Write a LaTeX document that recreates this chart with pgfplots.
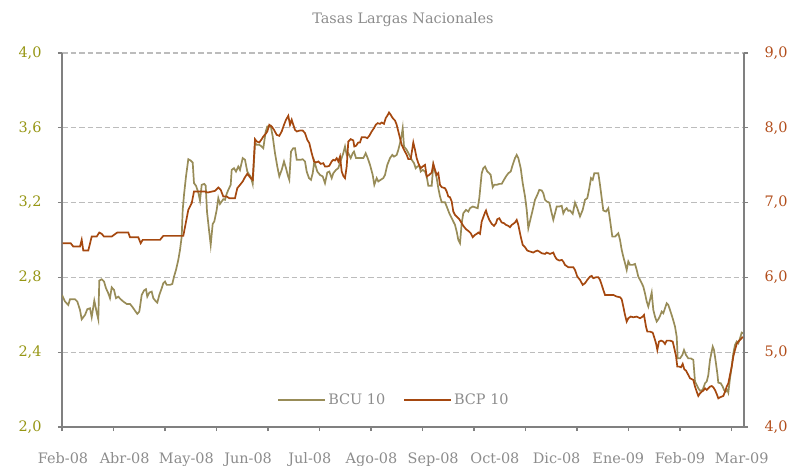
\documentclass[border=0pt]{standalone}
\usepackage{pgfplots}
\pgfplotsset{compat=1.18}
\usepackage{pgfplotstable}
\usepackage{fontspec}
\setmainfont{DejaVu Serif}
\definecolor{olivetxt}{RGB}{150,150,20}
\definecolor{browntxt}{RGB}{178,78,28}
\definecolor{bcu}{RGB}{152,140,88}
\definecolor{bcp}{RGB}{165,72,15}
\definecolor{graytxt}{RGB}{140,140,140}
\definecolor{axisgray}{RGB}{128,128,128}
\definecolor{gridgray}{RGB}{188,188,188}

\pgfplotstableread{
x v
0 2.706
3 2.671
6.3 2.653
8 2.683
13 2.683
15.3 2.671
18 2.626
19.7 2.576
23 2.599
25.3 2.630
28 2.635
29.7 2.587
32.3 2.676
34.7 2.612
36.3 2.576
37.3 2.783
39.7 2.790
42 2.778
44 2.742
46.3 2.715
48 2.689
49.7 2.747
52 2.733
54 2.689
56.3 2.697
58.7 2.683
61.3 2.671
64.7 2.658
68 2.658
70.7 2.640
73 2.622
75.3 2.605
77.3 2.617
79.7 2.706
82 2.730
84 2.737
85.3 2.697
87.3 2.719
89.7 2.724
91.3 2.689
94 2.671
95.3 2.665
97.3 2.706
99.7 2.742
101.3 2.769
103 2.778
104.7 2.760
108 2.760
110.3 2.765
112 2.804
114 2.840
116.3 2.894
118 2.947
119.7 3.018
120.7 3.161
122 3.241
124 3.340
126.3 3.432
128.7 3.425
130.7 3.414
132 3.304
134 3.290
136.3 3.254
138 3.211
139.7 3.295
142.3 3.300
143.7 3.290
145 3.152
147 3.054
148.7 2.974
150.7 3.086
152.3 3.099
154.7 3.161
156.3 3.224
158 3.193
159.7 3.206
161.3 3.218
163 3.215
164.7 3.247
166.3 3.268
168.7 3.295
169.7 3.375
172 3.384
174 3.366
176.3 3.393
178 3.375
180.7 3.438
183 3.429
185.3 3.366
187.3 3.348
188.7 3.340
190.7 3.300
193 3.518
194.7 3.509
197.3 3.509
199.7 3.500
201.3 3.491
203.7 3.580
205.3 3.607
208.7 3.611
210.7 3.554
213 3.464
215.3 3.393
217.3 3.340
219.7 3.375
222 3.420
224 3.384
225.7 3.348
227.3 3.322
229 3.473
231.3 3.491
233 3.491
234.7 3.429
238.7 3.429
240.7 3.432
243 3.420
244.7 3.366
247 3.331
249 3.322
250.7 3.357
252.3 3.420
255.3 3.366
258 3.348
260.7 3.340
263 3.304
265.3 3.361
267.3 3.366
269.7 3.331
271.3 3.357
274 3.375
276.3 3.384
279 3.429
281.3 3.464
283 3.500
284.7 3.455
286.3 3.464
288.7 3.438
290.7 3.464
292 3.473
294 3.438
298.7 3.438
301.3 3.438
303.7 3.464
305.7 3.438
308 3.402
310.7 3.348
312.3 3.295
314.7 3.331
316.3 3.313
318.7 3.322
321.3 3.331
323 3.348
325.3 3.402
328 3.438
330.3 3.455
332 3.446
334.7 3.455
336.3 3.482
338 3.518
339.7 3.562
340.7 3.598
342 3.500
344.7 3.482
347.3 3.455
349.7 3.429
352 3.411
353.7 3.384
355.3 3.393
357.3 3.397
358.7 3.366
360.7 3.375
363 3.366
364.7 3.340
366.3 3.290
369.7 3.290
371.3 3.402
373 3.366
374.7 3.331
376.3 3.277
378 3.233
379.7 3.202
383 3.202
384.7 3.179
387.3 3.143
389.7 3.117
391.3 3.099
393 3.081
394.7 3.045
396.3 3.001
398 2.983
399.7 3.090
401.3 3.143
404 3.161
406.3 3.152
408 3.170
410.7 3.179
413 3.175
415.7 3.170
417.3 3.224
419.7 3.357
421.3 3.384
423 3.393
425.3 3.366
427.3 3.357
428.7 3.348
430.7 3.282
432.3 3.295
434.7 3.295
437.3 3.300
439.7 3.300
442 3.322
444 3.340
446.3 3.357
448.7 3.366
450.7 3.402
453 3.438
454.7 3.455
456.3 3.438
458.7 3.384
460.7 3.304
463 3.233
464.7 3.161
466.3 3.063
468.7 3.117
470.7 3.161
473 3.215
475.3 3.241
477.3 3.268
479.7 3.265
481.3 3.250
483 3.215
484.7 3.206
487.3 3.200
489.7 3.143
491.3 3.108
493 3.143
494.7 3.179
497.3 3.179
499.7 3.183
501.3 3.143
503 3.161
504.7 3.170
506.3 3.156
508 3.158
510.7 3.140
513 3.200
515.3 3.170
518 3.126
520.7 3.161
523 3.215
525.3 3.224
527.3 3.277
529 3.331
530.7 3.322
532.3 3.357
536.3 3.357
538 3.295
539.7 3.224
541.3 3.158
544 3.152
546.3 3.170
548 3.108
550.3 3.018
553 3.018
554.7 3.027
556.3 3.036
558 3.001
559.7 2.947
561.3 2.911
563 2.876
564.7 2.840
566.3 2.885
568 2.867
570.7 2.867
573 2.872
574.7 2.840
576.3 2.804
578 2.787
579.7 2.769
581.3 2.751
583 2.715
584.7 2.671
586.3 2.644
588 2.680
589.7 2.719
591.3 2.626
593 2.590
594.7 2.564
596.3 2.576
598 2.594
599.7 2.617
601.3 2.608
603 2.635
604.7 2.662
606.3 2.653
608 2.626
610.7 2.581
613 2.537
614.7 2.483
615.7 2.367
618 2.367
620.3 2.385
622 2.412
624 2.385
626.3 2.367
628.7 2.367
631.3 2.359
633 2.243
634.7 2.225
636.3 2.207
638 2.194
640.7 2.198
643 2.234
644.7 2.243
646.3 2.278
648 2.359
650.7 2.430
652 2.412
653.7 2.350
655.3 2.287
656.3 2.237
658.7 2.234
660.7 2.216
662 2.198
663.7 2.189
665.3 2.198
666.3 2.184
668 2.260
669.7 2.323
671.3 2.394
673 2.439
674.7 2.457
676.3 2.448
678 2.474
679.7 2.505
681.3 2.501
}\bcudata

\pgfplotstableread{
x v
0.7 6.457
8.7 6.457
11.3 6.412
18 6.412
19.7 6.502
21.3 6.359
26.3 6.359
29.7 6.546
34.7 6.546
37.3 6.600
39.7 6.582
42 6.546
49.7 6.546
52 6.569
55.3 6.600
66.3 6.600
68 6.537
76.3 6.537
78.7 6.457
80.7 6.502
98 6.502
101.3 6.555
121.3 6.555
124.7 6.792
126.3 6.903
129.7 6.992
132 7.148
143 7.148
145.7 7.135
153 7.157
156.3 7.202
158.7 7.171
161.3 7.081
164.7 7.081
167.3 7.059
173 7.059
175.3 7.193
178 7.237
180.7 7.282
183 7.340
185.3 7.385
188.7 7.327
190.7 7.304
193 7.848
194.7 7.817
197.3 7.804
199.7 7.848
201.3 7.884
203.7 7.920
205.3 7.951
207.3 8.040
209.7 8.018
212 7.973
214.7 7.906
217.3 7.893
219.7 7.951
222 8.040
224 8.107
226.3 8.161
228 8.040
229.7 8.107
231.3 8.040
233 7.973
234.7 7.951
238 7.964
240.7 7.964
243 7.929
245.3 7.839
247.3 7.795
249.7 7.661
252 7.550
254 7.536
256.3 7.550
258.7 7.518
261.3 7.527
263 7.483
265.3 7.483
267.3 7.492
269.7 7.550
271.3 7.572
273 7.563
274.7 7.594
276.3 7.550
278 7.617
279.7 7.416
281.3 7.358
283 7.327
284.7 7.483
286.3 7.817
288.7 7.848
291.3 7.831
292.3 7.750
294 7.759
296.3 7.804
298 7.804
299.7 7.875
303 7.875
305.3 7.862
307.3 7.893
309.7 7.951
312 7.996
313.7 8.040
315.7 8.062
318 8.053
319.7 8.071
322 8.053
323.7 8.129
325.3 8.161
327 8.205
328.7 8.174
330.7 8.129
333 8.098
334.7 8.040
336.3 7.951
338 7.862
339.7 7.773
342 7.706
344.7 7.639
346.3 7.581
348.7 7.581
351.3 7.804
353 7.706
354.7 7.594
356.3 7.527
358.7 7.460
360.7 7.483
363 7.505
364.7 7.349
367.3 7.371
369.7 7.402
371.3 7.518
373 7.438
374.7 7.371
376.3 7.394
378 7.237
379.7 7.206
383 7.193
384.7 7.148
386.3 7.081
388 7.072
389.7 7.014
391.3 6.881
393 6.836
395.3 6.805
397.3 6.778
399.7 6.725
401.3 6.689
404 6.644
406.3 6.622
408.7 6.591
410.7 6.537
413 6.569
414.7 6.582
416.3 6.600
418 6.582
419.7 6.747
421.3 6.805
423 6.867
424 6.894
425.3 6.836
427.3 6.769
429.7 6.716
432 6.689
434 6.725
435.3 6.778
437.3 6.791
439.7 6.734
442 6.725
444 6.702
446.3 6.689
448 6.671
449.7 6.702
451.3 6.716
453 6.734
454.7 6.769
456.3 6.702
458.7 6.546
460.7 6.435
463 6.404
465.3 6.359
468 6.346
471.3 6.332
473 6.346
475.3 6.359
477.3 6.346
479.7 6.323
483 6.314
484.7 6.332
488 6.314
491.3 6.332
493 6.279
494.7 6.243
497.3 6.225
499.7 6.234
501.3 6.212
503 6.167
506.3 6.136
508 6.136
511.3 6.136
513 6.100
515.3 6.011
518 5.967
520.7 5.900
523 5.922
525.3 5.967
528 6.011
529.7 6.020
531.3 5.989
534 6.002
536.3 6.002
538 5.967
539.7 5.900
541.3 5.833
543 5.766
551.3 5.766
554.7 5.744
558 5.735
559.7 5.708
561.3 5.610
563 5.498
564.7 5.409
566.3 5.454
568.7 5.476
571.3 5.467
574.7 5.476
578 5.454
580.7 5.476
582 5.498
584 5.342
585.3 5.275
588 5.275
590.7 5.262
592 5.208
594 5.119
595.3 5.030
597 5.142
599 5.155
601.3 5.142
603 5.110
604.7 5.155
608 5.155
610.7 5.142
612.3 5.052
614 4.950
615.3 4.807
617.3 4.807
619 4.798
620.7 4.843
622.3 4.771
624 4.754
626.3 4.696
628 4.651
631.3 4.629
633 4.540
634.7 4.473
636.3 4.415
638 4.450
639.7 4.473
641.3 4.486
643 4.517
644.7 4.495
646.3 4.517
648 4.540
649.7 4.548
651.3 4.531
653 4.495
654.7 4.441
656.3 4.383
658 4.397
659.7 4.406
661.3 4.415
663 4.473
664.7 4.540
666.3 4.584
668 4.696
669.7 4.807
671.3 4.941
673 5.030
674.7 5.110
676.3 5.142
678 5.164
679.7 5.186
680.7 5.208
}\bcpdata

\begin{document}
\begin{tikzpicture}[font=\fontsize{14.5}{17}\selectfont]
\useasboundingbox (-62bp,-39bp) rectangle (730bp,427bp);
\pgfplotsset{
  common/.style={
    scale only axis, width=682bp, height=374bp,
    xmin=0, xmax=682,
    tick align=outside,
    major tick length=4bp,
    axis line style={draw=axisgray, line width=1.8bp},
    tick style={draw=axisgray, line width=1.1bp},
    /pgf/number format/.cd, use comma, fixed, fixed zerofill, precision=1, assume math mode=true,
  }
}
\begin{axis}[common,
  ymin=2, ymax=4, ytick={2,2.4,...,4.01},
  axis y line*=left, axis x line*=bottom,
  xtick={0,51.5,103,154.5,206,257.5,309,360.5,412,463.5,515,566.5,618,669.5},
  xticklabels={},
  extra x ticks={1,62.7,124.4,186.1,247.8,309.5,371.2,432.9,494.6,556.3,618,679.7},
  extra x tick labels={Feb-08,Abr-08,May-08,Jun-08,Jul-08,Ago-08,Sep-08,Oct-08,Dic-08,Ene-09,Feb-09,Mar-09},
  extra x tick style={major tick length=0pt, xticklabel style={text=graytxt, yshift=-22bp}},
  yticklabel style={text=olivetxt, xshift=-13bp},
  ymajorgrids,
  grid style={draw=gridgray, line width=1.2bp, dash pattern=on 5.5bp off 3bp},
  legend style={at={(0.487,0.072)}, anchor=center, draw=none, fill=none,
    legend columns=2, text=graytxt, font=\fontsize{14.5}{17}\selectfont,
    /tikz/every even column/.append style={column sep=16bp}},
  legend image code/.code={\draw[#1] (0bp,0bp) -- (47bp,0bp);},
]
\addplot[bcu, line width=1.7bp] table[x=x, y=v] {\bcudata};
\addlegendentry{BCU 10}
\addlegendimage{bcp, line width=1.7bp}
\addlegendentry{BCP 10}
\end{axis}
\begin{axis}[common,
  ymin=4, ymax=9, ytick={4,5,...,9},
  axis y line*=right, axis x line=none,
  yticklabel style={text=browntxt, xshift=13bp},
]
\addplot[bcp, line width=1.7bp] table[x=x, y=v] {\bcpdata};
\end{axis}
\node[text=graytxt] at (341bp,407bp) {Tasas Largas Nacionales};
\end{tikzpicture}
\end{document}
